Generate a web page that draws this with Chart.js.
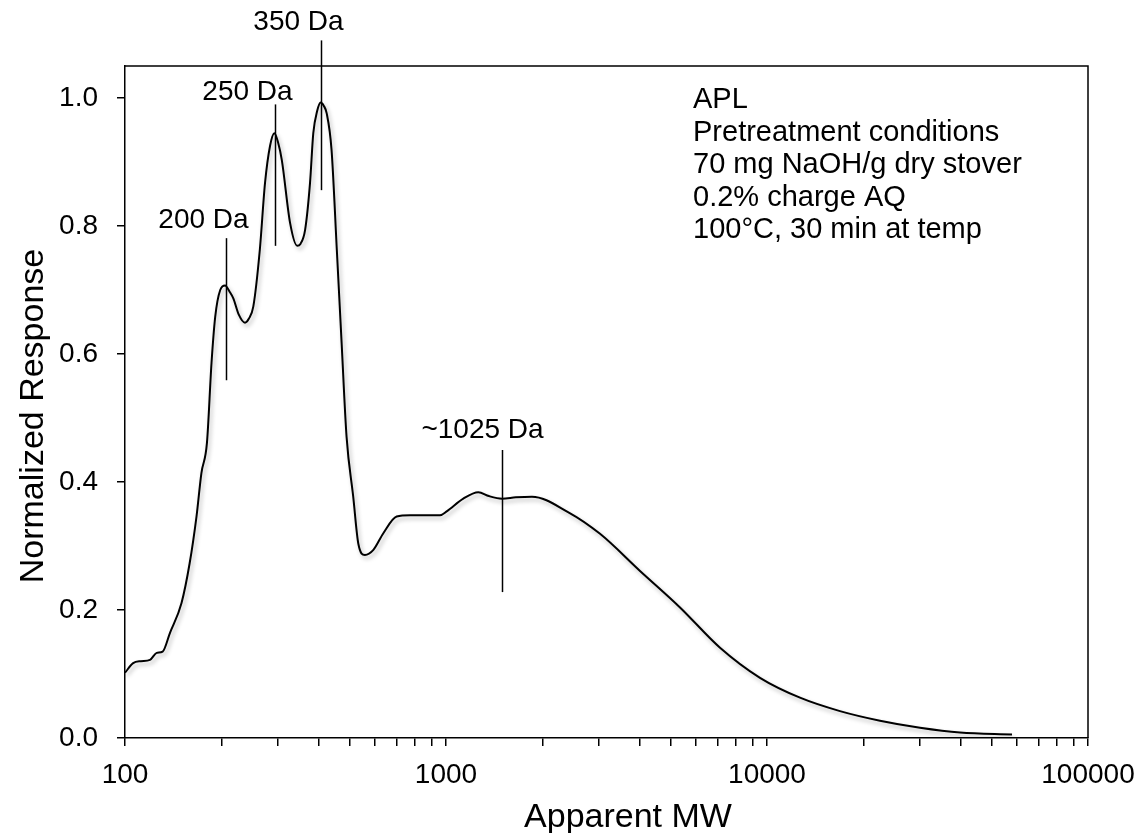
<!DOCTYPE html>
<html>
<head>
<meta charset="utf-8">
<script src="https://cdn.jsdelivr.net/npm/chart.js@4.4.1/dist/chart.umd.min.js"></script>
<style>
  html, body { margin: 0; padding: 0; background: #fff; }
  #wrap { width: 1137px; height: 833px; position: relative; }
</style>
</head>
<body>
<div id="wrap"><canvas id="c"></canvas></div>
<script>
// ---- data ----
const apparentMW = [100, 106, 112, 119.6, 125.5, 131, 138, 150, 159, 167, 173, 180, 186, 191, 198, 205, 212, 217.5, 226, 236.5, 243, 251, 263, 273, 283, 292, 300, 308, 327, 344, 352, 364, 377, 386, 397, 407, 416, 425, 440, 457, 473, 490, 514, 533, 559, 594, 638, 702, 773, 958, 1005, 1132, 1261, 1360, 1495, 1650, 1853, 2399, 3019, 4022, 5358, 7140, 9510, 12670, 16880, 22490, 29970, 39930, 57980];
const normResponse = [0.102, 0.117, 0.120, 0.122, 0.133, 0.135, 0.164, 0.211, 0.273, 0.346, 0.414, 0.461, 0.586, 0.658, 0.700, 0.707, 0.697, 0.687, 0.662, 0.649, 0.655, 0.674, 0.7625, 0.867, 0.925, 0.945, 0.930, 0.903, 0.804, 0.769, 0.772, 0.794, 0.867, 0.945, 0.980, 0.993, 0.988, 0.976, 0.919, 0.7625, 0.617, 0.471, 0.377, 0.304, 0.286, 0.294, 0.320, 0.346, 0.348, 0.348, 0.354, 0.374, 0.384, 0.378, 0.374, 0.376, 0.377, 0.353, 0.319, 0.261, 0.204, 0.141, 0.094, 0.063, 0.042, 0.027, 0.0160, 0.0085, 0.0055];

// peak markers
const peakLabels = ['200 Da', '250 Da', '350 Da', '~1025 Da'];
const peakMW = [206, 293, 407, 1497];
const peakLineTop = [0.781, 0.99, 1.09, 0.45];
const peakLineBottom = [0.559, 0.769, 0.856, 0.228];

// axis ticks
const xMajorTicks = [100, 1000, 10000, 100000];
const xTickLabels = ['100', '1000', '10000', '100000'];
const xMinorMultipliers = [2, 3, 4, 5, 6, 7, 8, 9];
const yTicks = [0, 0.2, 0.4, 0.6, 0.8, 1.0];
const yTickLabels = ['0.0', '0.2', '0.4', '0.6', '0.8', '1.0'];

const infoLines = ['APL', 'Pretreatment conditions', '70 mg NaOH/g dry stover', '0.2% charge AQ', '100\u00B0C, 30 min at temp'];
const xTitle = 'Apparent MW';
const yTitle = 'Normalized Response';

// ---- rendering ----
const FONT = '"Liberation Sans", Arial, Helvetica, sans-serif';
// pixel offsets of each peak label relative to the top of its marker line
const labelOffsets = [[-23, -10], [-28, -4], [-23, -10], [-20, -12]];

const points = apparentMW.map((x, i) => ({ x: x, y: normResponse[i] }));

const decorPlugin = {
  id: 'decor',
  beforeDatasetDraw(chart, args) {
    if (args.index !== 0) return;
    const ctx = chart.ctx;
    ctx.save();
    ctx.shadowColor = 'rgba(0,0,0,0.28)';
    ctx.shadowBlur = 4;
    ctx.shadowOffsetX = 2;
    ctx.shadowOffsetY = 3;
  },
  afterDatasetDraw(chart, args) {
    if (args.index !== 0) return;
    chart.ctx.restore();
  },
  afterDraw(chart) {
    const ctx = chart.ctx;
    const a = chart.chartArea;
    const xs = chart.scales.x, ys = chart.scales.y;
    ctx.save();
    // top and right frame
    ctx.strokeStyle = '#000';
    ctx.lineWidth = 1.5;
    ctx.beginPath();
    ctx.moveTo(a.left, a.top);
    ctx.lineTo(a.right, a.top);
    ctx.lineTo(a.right, a.bottom);
    ctx.stroke();

    // peak marker lines and labels
    ctx.lineWidth = 1.5;
    ctx.fillStyle = '#000';
    ctx.font = '28px ' + FONT;
    ctx.textAlign = 'center';
    ctx.textBaseline = 'alphabetic';
    peakMW.forEach((mw, i) => {
      const px = Math.round(xs.getPixelForValue(mw)) + 0.5;
      const pt = ys.getPixelForValue(peakLineTop[i]);
      const pb = ys.getPixelForValue(peakLineBottom[i]);
      ctx.beginPath();
      ctx.moveTo(px, pt);
      ctx.lineTo(px, pb);
      ctx.stroke();
      ctx.fillText(peakLabels[i], px + labelOffsets[i][0], pt + labelOffsets[i][1]);
    });

    // info text
    ctx.textAlign = 'left';
    ctx.font = '29px ' + FONT;
    infoLines.forEach((t, i) => {
      ctx.fillText(t, 693, 108 + i * 32.5);
    });

    // axis titles
    ctx.font = '34px ' + FONT;
    ctx.textAlign = 'center';
    ctx.fillText(xTitle, 628, 827);
    ctx.save();
    ctx.translate(43, 416);
    ctx.rotate(-Math.PI / 2);
    ctx.fillText(yTitle, 0, 0);
    ctx.restore();
    ctx.restore();
  }
};

new Chart(document.getElementById('c'), {
  type: 'line',
  data: {
    datasets: [{
      data: points,
      borderColor: '#000',
      borderWidth: 2,
      pointRadius: 0,
      fill: false,
      cubicInterpolationMode: 'monotone'
    }]
  },
  options: {
    responsive: true,
    maintainAspectRatio: false,
    animation: false,
    events: [],
    layout: { padding: { top: 66, right: 49, left: 0, bottom: 0 } },
    plugins: { legend: { display: false }, tooltip: { enabled: false } },
    scales: {
      x: {
        type: 'logarithmic',
        min: 100,
        max: 100000,
        afterBuildTicks(scale) {
          const t = [];
          xMajorTicks.forEach((m, i) => {
            t.push({ value: m, major: true });
            if (i < xMajorTicks.length - 1) xMinorMultipliers.forEach(k => t.push({ value: m * k }));
          });
          scale.ticks = t;
        },
        afterFit(scale) { scale.height = 95; scale.paddingLeft = 0; scale.paddingRight = 0; },
        border: { display: true, color: '#000', width: 1.5 },
        grid: { display: true, drawOnChartArea: false, drawTicks: true, tickLength: 8, color: '#000', lineWidth: 1.5 },
        ticks: {
          autoSkip: false,
          maxRotation: 0,
          padding: 12,
          color: '#000',
          font: { size: 28, family: FONT },
          callback(v) {
            const idx = xMajorTicks.indexOf(v);
            return idx >= 0 ? xTickLabels[idx] : '';
          }
        }
      },
      y: {
        type: 'linear',
        min: 0,
        max: 1.05,
        afterBuildTicks(scale) { scale.ticks = yTicks.map(v => ({ value: v })); },
        afterFit(scale) { scale.width = 125; scale.paddingTop = 0; scale.paddingBottom = 0; },
        border: { display: true, color: '#000', width: 1.5 },
        grid: { display: true, drawOnChartArea: false, drawTicks: true, tickLength: 8, color: '#000', lineWidth: 1.5 },
        ticks: {
          padding: 19,
          color: '#000',
          font: { size: 28, family: FONT },
          callback(v) {
            const idx = yTicks.findIndex(t => Math.abs(t - v) < 1e-9);
            return idx >= 0 ? yTickLabels[idx] : '';
          }
        }
      }
    }
  },
  plugins: [decorPlugin]
});
</script>
</body>
</html>
